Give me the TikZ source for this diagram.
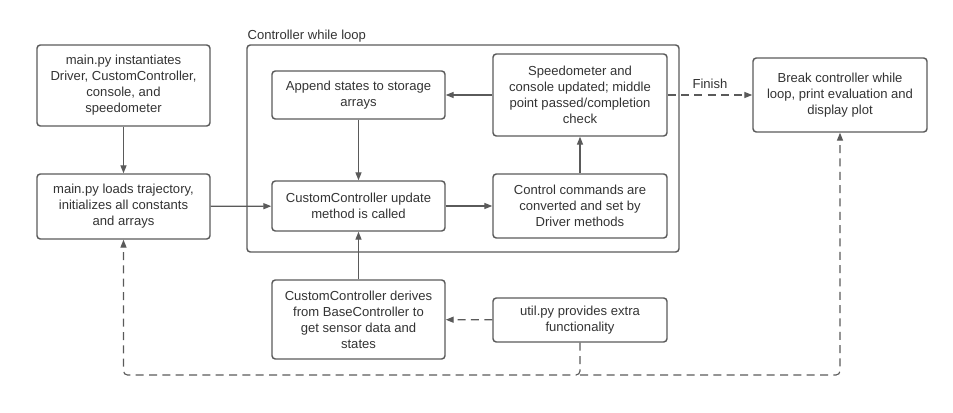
\documentclass[tikz,border=0pt]{standalone}
\usepackage{fontspec}
\setmainfont{Liberation Sans}
\usetikzlibrary{arrows.meta}
\definecolor{flowLine}{HTML}{5A5A5A}
\definecolor{flowText}{HTML}{333333}

\begin{document}
\begin{tikzpicture}[x=0.75pt,y=-0.75pt,font=\fontsize{9.8}{12}\selectfont,
    box/.style={draw=flowLine,line width=1.1pt,rounded corners=2.5pt,align=center,
      text=flowText,inner sep=2pt},
    flow/.style={draw=flowLine,line width=0.85pt,-{Triangle[length=6pt,width=4.6pt]}},
    hint/.style={flow,dash pattern=on 6pt off 4pt}]
  \path[use as bounding box] (0,0) rectangle (953,413);
  % loop frame
  \draw[flowLine,line width=1.1pt,rounded corners=2.5pt] (247,45) rectangle (679,252);
  \node[anchor=south west,text=flowText,inner sep=1pt] (looplbl) at (246,44) {Controller while loop};
  % boxes
  \node[box,minimum width=129.75pt,minimum height=60.75pt] (inst) at (123.5,85.5)
    {main.py instantiates\\Driver, CustomController,\\console, and\\speedometer};
  \node[box,minimum width=129.75pt,minimum height=48.75pt] (load) at (123.5,206.5)
    {main.py loads trajectory,\\initializes all constants\\and arrays};
  \node[box,minimum width=129.75pt,minimum height=36pt] (append) at (358.5,95)
    {Append states to storage\\arrays};
  \node[box,minimum width=129.75pt,minimum height=37.5pt] (update) at (358.5,206)
    {CustomController update\\method is called};
  \node[box,minimum width=130.5pt,minimum height=61.5pt] (speedo) at (580,95)
    {Speedometer and\\console updated; middle\\point passed/completion\\check};
  \node[box,minimum width=130.5pt,minimum height=48pt] (cmds) at (580,206)
    {Control commands are\\converted and set by\\Driver methods};
  \node[box,minimum width=130.5pt,minimum height=55.5pt] (brk) at (840,95)
    {Break controller while\\loop, print evaluation and\\display plot};
  \node[box,minimum width=129.75pt,minimum height=59.25pt] (derive) at (358.5,319.5)
    {CustomController derives\\from BaseController to\\get sensor data and\\states};
  \node[box,minimum width=130.5pt,minimum height=33pt] (util) at (580,320)
    {util.py provides extra\\functionality};
  \coordinate (split) at (580,375);
  % connectors
  \draw[flow] (inst) -- (load);
  \draw[flow] (load) -- (update);
  \draw[flow] (append) -- (update);
  \draw[flow] (update) -- (cmds);
  \draw[flow] (cmds) -- (speedo);
  \draw[flow] (speedo) -- (append);
  \draw[flow] (derive) -- (update);
  \draw[hint] (speedo) -- node[above,text=flowText,inner sep=4pt] (finish) {Finish} (brk);
  \draw[hint] (util) -- (derive);
  \draw[hint,rounded corners=3pt] (util.south) -- (split) -| (load.south);
  \draw[hint,rounded corners=3pt] (split) -| (brk.south);
\end{tikzpicture}
\end{document}
